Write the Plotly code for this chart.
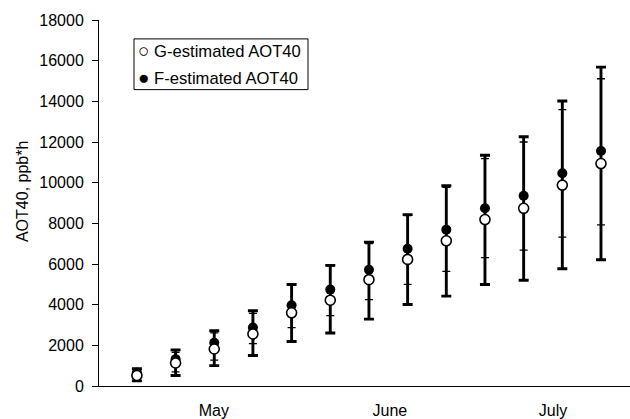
import plotly.graph_objects as go

# ---- data ----
weeks = list(range(1, 14))

g_mean = [520, 1130, 1820, 2560, 3600, 4220, 5230, 6225, 7140, 8185, 8740, 9880, 10940]
g_upper = [800, 1660, 2610, 3570, 4950, 5900, 7000, 8380, 9765, 11180, 12000, 13590, 15110]
g_lower = [350, 690, 1270, 2080, 2870, 3460, 4250, 5000, 5640, 6310, 6680, 7320, 7920]

f_mean = [650, 1320, 2130, 2880, 3970, 4740, 5720, 6750, 7690, 8740, 9355, 10465, 11555]
f_upper = [850, 1775, 2720, 3700, 4990, 5930, 7075, 8430, 9845, 11345, 12260, 14020, 15680]
f_lower = [250, 520, 1000, 1500, 2185, 2610, 3290, 4010, 4420, 4990, 5200, 5770, 6210]

month_labels = ["May", "June", "July"]
month_ticks = [2.99, 7.54, 11.76]

y_ticks = list(range(0, 18001, 2000))

FONT = "Liberation Sans, Arial, sans-serif"

fig = go.Figure()

# thick error bars (F-estimated)
fig.add_trace(go.Scatter(
    x=weeks, y=f_mean, mode="markers",
    marker=dict(size=1, color="rgba(0,0,0,0)"),
    error_y=dict(type="data", symmetric=False,
                 array=[u - m for u, m in zip(f_upper, f_mean)],
                 arrayminus=[m - l for m, l in zip(f_mean, f_lower)],
                 color="black", thickness=2.9, width=5),
    showlegend=False, hoverinfo="skip"))

# thin error bars (G-estimated)
fig.add_trace(go.Scatter(
    x=weeks, y=g_mean, mode="markers",
    marker=dict(size=1, color="rgba(0,0,0,0)"),
    error_y=dict(type="data", symmetric=False,
                 array=[u - m for u, m in zip(g_upper, g_mean)],
                 arrayminus=[m - l for m, l in zip(g_mean, g_lower)],
                 color="black", thickness=1.3, width=4),
    showlegend=False, hoverinfo="skip"))

# markers
fig.add_trace(go.Scatter(
    x=weeks, y=f_mean, mode="markers", name="F-estimated AOT40",
    marker=dict(size=10, color="black", line=dict(color="black", width=0)),
    showlegend=False))
fig.add_trace(go.Scatter(
    x=weeks, y=g_mean, mode="markers", name="G-estimated AOT40",
    marker=dict(size=10, color="white", line=dict(color="black", width=1.6)),
    showlegend=False))

# legend box (drawn manually to mimic the compact original legend)
fig.add_shape(type="rect", xref="paper", yref="paper",
              x0=(134 - 99) / 531, x1=(308 - 99) / 531,
              y0=(388 - 90) / 368, y1=(388 - 39) / 368,
              line=dict(color="black", width=1), fillcolor="white", layer="above")
legend_items = [
    "<span style='font-size:19px'>○</span> G-estimated AOT40",
    "<span style='font-size:19px'>●</span> F-estimated AOT40",
]
for i, txt in enumerate(legend_items):
    fig.add_annotation(xref="paper", yref="paper",
                       x=(136 - 99) / 531, y=(388 - (51 + 27 * i)) / 368,
                       xanchor="left", yanchor="middle", showarrow=False,
                       text=txt, font=dict(family=FONT, size=16.6, color="black"))

# y-axis title
fig.add_annotation(xref="paper", yref="paper",
                   x=(22 - 99) / 531, y=(388 - 193) / 368,
                   xanchor="center", yanchor="middle", showarrow=False,
                   textangle=-90, text="AOT40, ppb*h",
                   font=dict(family=FONT, size=16, color="black"))

fig.update_layout(
    width=630, height=419,
    margin=dict(l=99, r=0, t=20, b=31, pad=0),
    paper_bgcolor="white", plot_bgcolor="white",
    font=dict(family=FONT, size=16, color="black"),
    showlegend=False,
    xaxis=dict(range=[0.02, 13.75], showgrid=False, zeroline=False,
               showline=True, linecolor="black", linewidth=1.3,
               tickmode="array", tickvals=month_ticks, ticktext=month_labels,
               ticks="", ticklabelstandoff=10),
    yaxis=dict(range=[0, 18000], showgrid=False, zeroline=False,
               showline=True, linecolor="black", linewidth=1,
               tickmode="array", tickvals=y_ticks, tickformat="d",
               ticks="outside", ticklen=6, tickcolor="black", tickwidth=1,
               ticklabelstandoff=5),
)

fig.write_html("out.html")
